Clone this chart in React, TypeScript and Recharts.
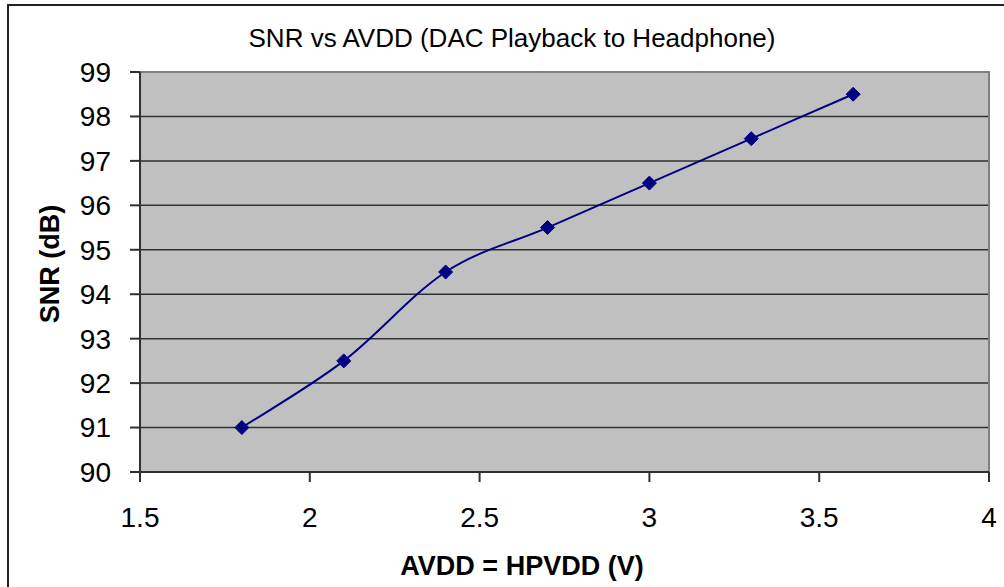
import { CartesianGrid, Line, LineChart, ReferenceArea, XAxis, YAxis } from "recharts";

const NAVY = "#000080";
const AXIS_DARK = "#303030";
const FONT = "'Liberation Sans', Arial, sans-serif";

const AVDD_VOLTS = [1.8, 2.1, 2.4, 2.7, 3.0, 3.3, 3.6];
const SNR_DB = [91, 92.5, 94.5, 95.5, 96.5, 97.5, 98.5];
const X_TICKS = [1.5, 2, 2.5, 3, 3.5, 4];
const Y_TICKS = [90, 91, 92, 93, 94, 95, 96, 97, 98, 99];

const TITLE = "SNR vs AVDD (DAC Playback to Headphone)";
const X_TITLE = "AVDD = HPVDD (V)";
const Y_TITLE = "SNR (dB)";

const data = AVDD_VOLTS.map((v, i) => ({ avdd: v, snr: SNR_DB[i] }));

// Excel-style smoothed line (Catmull-Rom, tension 1/6)
function excelSmooth(context: any) {
  let pts: number[][] = [];
  return {
    areaStart() {},
    areaEnd() {},
    lineStart() {
      pts = [];
    },
    point(x: number, y: number) {
      pts.push([+x, +y]);
    },
    lineEnd() {
      if (!pts.length) return;
      context.moveTo(pts[0][0], pts[0][1]);
      for (let i = 0; i < pts.length - 1; i++) {
        const p0 = pts[Math.max(i - 1, 0)];
        const p1 = pts[i];
        const p2 = pts[i + 1];
        const p3 = pts[Math.min(i + 2, pts.length - 1)];
        context.bezierCurveTo(
          p1[0] + (p2[0] - p0[0]) / 6,
          p1[1] + (p2[1] - p0[1]) / 6,
          p2[0] - (p3[0] - p1[0]) / 6,
          p2[1] - (p3[1] - p1[1]) / 6,
          p2[0],
          p2[1]
        );
      }
    },
  };
}

function Diamond(props: any) {
  const { cx, cy } = props;
  if (cx == null || cy == null) return null;
  const r = 7;
  return (
    <path
      d={`M${cx},${cy - r}L${cx + r},${cy}L${cx},${cy + r}L${cx - r},${cy}Z`}
      fill={NAVY}
      stroke={NAVY}
    />
  );
}

export default function App() {
  return (
    <div
      style={{
        position: "fixed",
        left: 0,
        top: 0,
        width: 1004,
        height: 587,
        overflow: "hidden",
        background: "#fff",
        fontFamily: FONT,
      }}
    >
      <div
        style={{
          position: "absolute",
          left: 7,
          top: 4,
          width: 1100,
          height: 700,
          border: "2px solid #222",
        }}
      />
      <div style={{ position: "absolute", left: 0, top: 0 }}>
        <LineChart width={1004} height={587} data={data} margin={{ top: 72, right: 15, bottom: 0, left: 0 }}>
          <CartesianGrid
            vertical={false}
            fill="#c0c0c0"
            stroke={AXIS_DARK}
            strokeWidth={1.5}
            horizontalValues={Y_TICKS}
          />
          <ReferenceArea x1={1.5} x2={4} y1={90} y2={99} fill="none" stroke="#808080" strokeWidth={2} />
          <XAxis
            type="number"
            dataKey="avdd"
            domain={[1.5, 4]}
            ticks={X_TICKS}
            height={115}
            tickSize={10}
            tickMargin={25}
            stroke={AXIS_DARK}
            strokeWidth={2}
            tick={{ fill: "#000", fontSize: 28, fontFamily: FONT }}
            interval={0}
          />
          <YAxis
            type="number"
            domain={[90, 99]}
            ticks={Y_TICKS}
            width={140}
            tickSize={10}
            tickMargin={19}
            stroke={AXIS_DARK}
            strokeWidth={2}
            tick={{ fill: "#000", fontSize: 28, fontFamily: FONT }}
            interval={0}
          />
          <Line
            dataKey="snr"
            type={excelSmooth as any}
            stroke={NAVY}
            strokeWidth={2}
            dot={<Diamond />}
            activeDot={false}
            isAnimationActive={false}
          />
        </LineChart>
      </div>
      <svg
        width={1004}
        height={587}
        style={{ position: "absolute", left: 0, top: 0, pointerEvents: "none" }}
      >
        <text x={512} y={47} textAnchor="middle" fontSize={26} fontFamily={FONT} fill="#000">
          {TITLE}
        </text>
        <text x={522} y={575} textAnchor="middle" fontSize={27} fontWeight="bold" fontFamily={FONT} fill="#000">
          {X_TITLE}
        </text>
        <text
          x={59}
          y={264}
          textAnchor="middle"
          fontSize={27}
          fontWeight="bold"
          fontFamily={FONT}
          fill="#000"
          transform="rotate(-90 59 264)"
        >
          {Y_TITLE}
        </text>
      </svg>
    </div>
  );
}
